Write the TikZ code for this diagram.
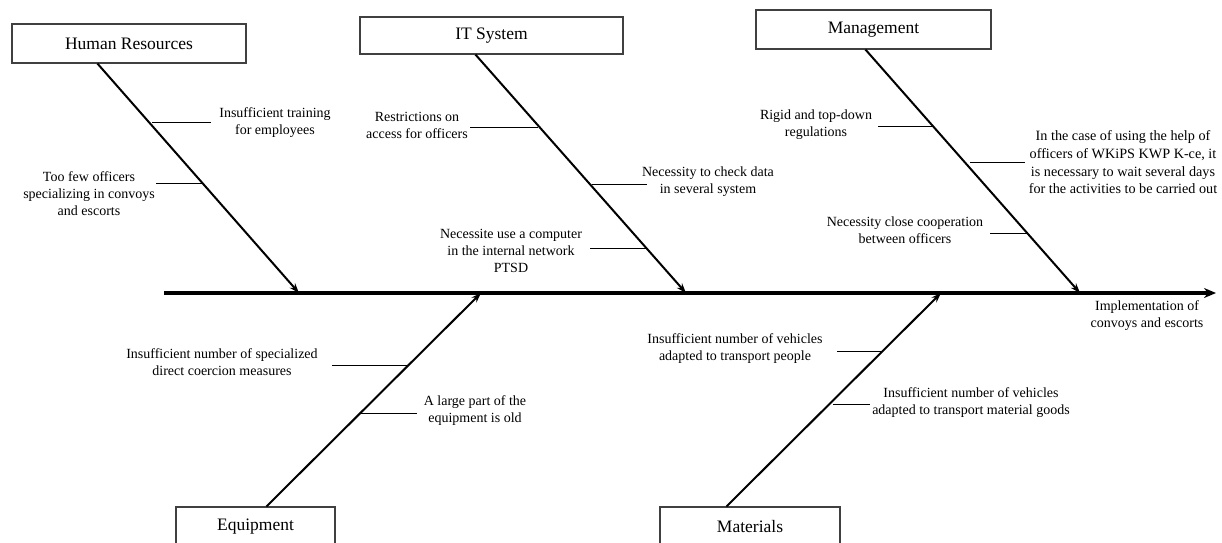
\documentclass[tikz,border=0pt]{standalone}
\usepackage{fontspec}
\setmainfont{Liberation Serif}
\usetikzlibrary{arrows.meta}
\definecolor{boxgray}{HTML}{404040}
\tikzset{
  catbox/.style={draw=boxgray, line width=1.1pt, fill=white, inner sep=0pt, font=\fontsize{17.5}{20}\selectfont},
  bone/.style={line width=2pt, -{Stealth[length=10pt,width=7pt]}},
  spine/.style={line width=3.6pt, -{Stealth[length=12pt,width=10pt]}},
  twig/.style={line width=0.9pt},
  lbl/.style={align=center, inner sep=0pt, font=\fontsize{14}{17}\selectfont}
}
\begin{document}
\begin{tikzpicture}[x=1pt,y=-1pt]
\useasboundingbox (0,0) rectangle (1222,542);
\clip (0,0) rectangle (1222,542);
\fill[white] (0,0) rectangle (1222,542);
% spine
\coordinate (spS) at (164,293);
\coordinate (spE) at (1216,293);
\draw[spine] (spS) -- (spE);
\node[lbl] (effect) at (1147,316) {Implementation of\\convoys and escorts};
% category boxes
\node[catbox, minimum width=234pt, minimum height=39pt] (hr) at (129,43.5) {Human Resources};
\node[catbox, minimum width=263pt, minimum height=37pt] (it) at (491.5,35.5) {IT System};
\node[catbox, minimum width=235pt, minimum height=39pt] (mg) at (873.5,29.5) {Management};
\node[catbox, minimum width=159pt, minimum height=40pt] (eq) at (255.5,527) {Equipment};
\node[catbox, minimum width=180pt, minimum height=40pt] (mt) at (750,527) {Materials};
% bone tips on spine
\coordinate (hrT) at (299,293);
\coordinate (itT) at (686,293);
\coordinate (mgT) at (1080,293);
\coordinate (eqT) at (481,293);
\coordinate (mtT) at (941,293);
\draw[bone] ([xshift=86pt]hr.south west) -- (hrT);
\draw[bone] ([xshift=116pt]it.south west) -- (itT);
\draw[bone] ([xshift=110pt]mg.south west) -- (mgT);
\draw[bone] ([xshift=91pt]eq.north west) -- (eqT);
\draw[bone] ([xshift=67pt]mt.north west) -- (mtT);
% Human Resources causes
\node[lbl] (hr1) at (275,123) {Insufficient training\\for employees};
\node[lbl] (hr2) at (89,194) {Too few officers\\specializing in convoys\\and escorts};
\coordinate (hr1a) at (152,122); \coordinate (hr1b) at (211,122);
\coordinate (hr2a) at (204,183); \coordinate (hr2b) at (156,183);
\draw[twig] (hr1a) -- (hr1b);
\draw[twig] (hr2a) -- (hr2b);
% IT System causes
\node[lbl] (it1) at (417,125) {Restrictions on\\access for officers};
\node[lbl] (it2) at (708,182) {Necessity to check data\\in several system};
\node[lbl] (it3) at (511,251) {Necessite use a computer\\in the internal network\\PTSD};
\coordinate (it1a) at (538,127); \coordinate (it1b) at (470,127);
\coordinate (it2a) at (592,184); \coordinate (it2b) at (647,184);
\coordinate (it3a) at (647,248); \coordinate (it3b) at (590,248);
\draw[twig] (it1a) -- (it1b);
\draw[twig] (it2a) -- (it2b);
\draw[twig] (it3a) -- (it3b);
% Management causes
\node[lbl] (mg1) at (816,125) {Rigid and top-down\\regulations};
\node[lbl, font=\fontsize{14.2}{17.7}\selectfont] (mg2) at (1123,162.5) {In the case of using the help of\\officers of WKiPS KWP K-ce, it\\is necessary to wait several days\\for the activities to be carried out};
\node[lbl] (mg3) at (905,230) {Necessity close cooperation\\between officers};
\coordinate (mg1a) at (932,126); \coordinate (mg1b) at (878,126);
\coordinate (mg2a) at (970,162); \coordinate (mg2b) at (1025,162);
\coordinate (mg3a) at (1028,233); \coordinate (mg3b) at (990,233);
\draw[twig] (mg1a) -- (mg1b);
\draw[twig] (mg2a) -- (mg2b);
\draw[twig] (mg3a) -- (mg3b);
% Equipment causes
\node[lbl] (eq1) at (222,362) {Insufficient number of specialized\\direct coercion measures};
\node[lbl] (eq2) at (475,410.5) {A large part of the\\equipment is old};
\coordinate (eq1a) at (407,365); \coordinate (eq1b) at (332,365);
\coordinate (eq2a) at (361,413); \coordinate (eq2b) at (417,413);
\draw[twig] (eq1a) -- (eq1b);
\draw[twig] (eq2a) -- (eq2b);
% Materials causes
\node[lbl] (mt1) at (735,349) {Insufficient number of vehicles\\adapted to transport people};
\node[lbl] (mt2) at (971,402.5) {Insufficient number of vehicles\\adapted to transport material goods};
\coordinate (mt1a) at (881,351); \coordinate (mt1b) at (837,351);
\coordinate (mt2a) at (833,404); \coordinate (mt2b) at (870,404);
\draw[twig] (mt1a) -- (mt1b);
\draw[twig] (mt2a) -- (mt2b);
\end{tikzpicture}
\end{document}
